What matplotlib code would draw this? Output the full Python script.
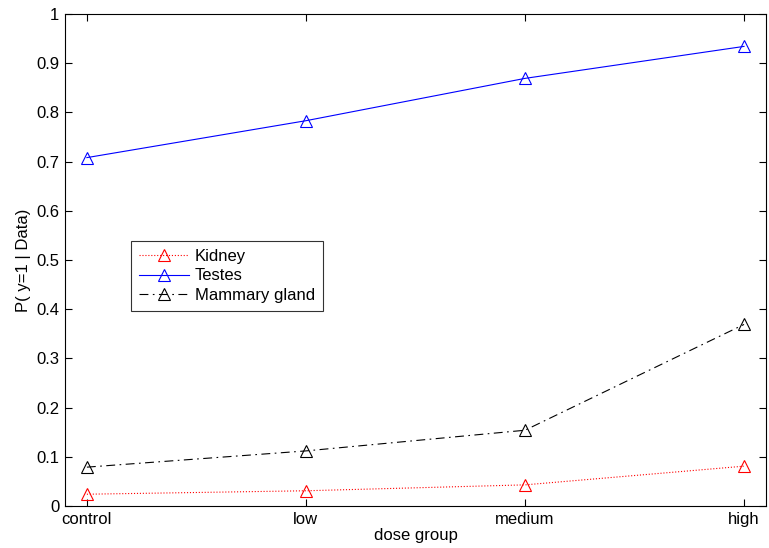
import matplotlib
matplotlib.use("Agg")
import matplotlib.pyplot as plt

plt.rcParams['font.family'] = ['Liberation Sans', 'DejaVu Sans']

dose_groups = ["control", "low", "medium", "high"]
kidney = [0.024, 0.031, 0.043, 0.081]
testes = [0.708, 0.783, 0.869, 0.934]
mammary = [0.079, 0.112, 0.154, 0.369]
yticks = [0, 0.1, 0.2, 0.3, 0.4, 0.5, 0.6, 0.7, 0.8, 0.9, 1]
ytick_labels = ["0", "0.1", "0.2", "0.3", "0.4", "0.5", "0.6", "0.7", "0.8", "0.9", "1"]

fig = plt.figure(figsize=(7.69, 5.48), dpi=100)
ax = fig.add_axes([0.0845, 0.0766, 0.9115, 0.898])

x = list(range(1, len(dose_groups) + 1))
mk = dict(marker="^", markersize=8, markerfacecolor="none", markeredgewidth=0.8, linewidth=0.8)
ax.plot(x, kidney, color="red", linestyle=":", label="Kidney", **mk)
ax.plot(x, testes, color="blue", linestyle="-", label="Testes", **mk)
ax.plot(x, mammary, color="black", linestyle=(0, (8, 4, 1.5, 4)), label="Mammary gland", **mk)

ax.set_xlim(0.9, 4.1)
ax.set_ylim(0, 1)
ax.set_xticks(x)
ax.set_xticklabels(dose_groups)
ax.set_yticks(yticks)
ax.set_yticklabels(ytick_labels)
ax.tick_params(direction="in", top=True, right=True, length=5, labelsize=12, pad=4)
ax.set_xlabel("dose group", fontsize=12, labelpad=1)
ax.set_ylabel("P( y=1 | Data)", fontsize=12, labelpad=4)

leg = ax.legend(loc="upper left", bbox_to_anchor=(0.094, 0.5386), fontsize=12,
                frameon=True, fancybox=False, edgecolor="black", handlelength=3.0,
                borderpad=0.5, labelspacing=0.25, handletextpad=0.35, borderaxespad=0)
leg.get_frame().set_linewidth(0.8)

fig.savefig("out.png", dpi=100)
